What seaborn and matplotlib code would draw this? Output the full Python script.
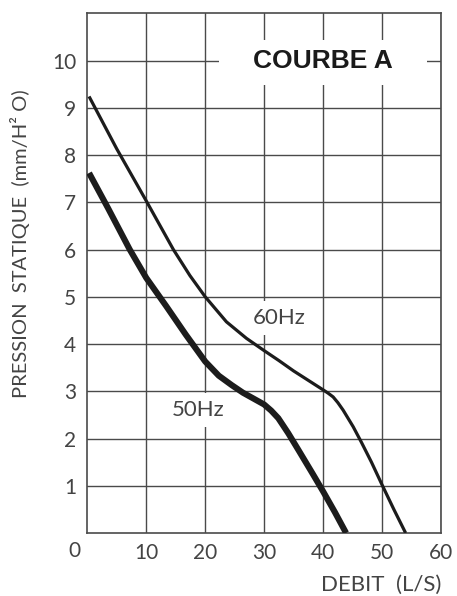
import matplotlib
matplotlib.use("Agg")
import matplotlib.pyplot as plt
import seaborn as sns
import pandas as pd
from matplotlib.patches import Rectangle

# ---- data ----
debit_60 = [0.3, 5, 10, 14.6, 17.4, 20, 23.6, 27, 30, 32.5, 35, 37.5, 40,
            40.85, 41.7, 42.5, 43.4, 45.1, 46.5, 48.2, 50, 52, 54]
pression_60 = [9.24, 8.13, 7.03, 6.0, 5.45, 5.0, 4.47, 4.12, 3.86, 3.65, 3.43, 3.23, 3.03,
               2.96, 2.88, 2.76, 2.60, 2.25, 1.92, 1.5, 1.02, 0.5, 0.0]

debit_50 = [0.3, 3.5, 7.2, 10, 13.4, 16.7, 20, 22.3, 24.5, 26.4, 30, 31.2, 32.4, 33.2,
            34.1, 35.8, 38.3, 40, 42, 43.9]
pression_50 = [7.62, 6.88, 6.0, 5.4, 4.8, 4.2, 3.63, 3.33, 3.13, 2.97, 2.72, 2.59, 2.43, 2.28,
               2.11, 1.76, 1.24, 0.88, 0.44, 0.0]

x_ticks = [10, 20, 30, 40, 50, 60]
y_ticks = [1, 2, 3, 4, 5, 6, 7, 8, 9, 10]

title_text = "COURBE A"
label_60 = "60Hz"
label_50 = "50Hz"
x_label = "DEBIT  (L/S)"
y_label = "PRESSION  STATIQUE  (mm/H² O)"

df60 = pd.DataFrame({"debit": debit_60, "pression": pression_60})
df50 = pd.DataFrame({"debit": debit_50, "pression": pression_50})

sns.set_style("white")
plt.rcParams["font.family"] = ["Lato", "DejaVu Sans"]

fig = plt.figure(figsize=(4.57, 5.96), dpi=100)
ax = fig.add_axes([0.191, 0.1057, 0.774, 0.872])

ink = "#1c1c1c"
gridc = "#4a4a4a"
txtc = "#444444"

sns.lineplot(data=df60, x="debit", y="pression", ax=ax, color=ink, linewidth=2.3,
             sort=False, estimator=None, zorder=5)
sns.lineplot(data=df50, x="debit", y="pression", ax=ax, color=ink, linewidth=4.4,
             sort=False, estimator=None, zorder=5)
for ln in ax.get_lines():
    ln.set_solid_capstyle("butt")
    ln.set_solid_joinstyle("round")

ax.set_xlim(0, 60)
ax.set_ylim(0, 11)
ax.set_xticks(x_ticks)
ax.set_yticks(y_ticks)
ax.set_xticklabels([str(v) for v in x_ticks], fontsize=15, color=txtc)
ax.set_yticklabels([str(v) for v in y_ticks], fontsize=15, color=txtc)
ax.tick_params(axis="x", length=0, pad=7)
ax.tick_params(axis="y", length=0, pad=8)

ax.grid(True, color=gridc, linewidth=1.0, zorder=1)
ax.set_axisbelow(True)
for s in ax.spines.values():
    s.set_color(gridc)
    s.set_linewidth(1.2)

# origin label
ax.text(-2.1, -0.38, "0", ha="center", va="center", fontsize=15,
        color=txtc, clip_on=False)

# axis labels
ax.set_xlabel(x_label, fontsize=16, color=txtc)
ax.xaxis.set_label_coords(1.0, -0.1)
ax.xaxis.label.set_ha("right")
ax.xaxis.label.set_va("center")
ax.set_ylabel(y_label, fontsize=14.5, color=txtc)
ax.yaxis.set_label_coords(-0.19, 0.556)
ax.yaxis.label.set_va("center")

# title box
ax.add_patch(Rectangle((22.3, 9.49), 35.4, 0.95, facecolor="white", edgecolor="none", zorder=2))
ax.text(40, 10.0, title_text, ha="center", va="center", fontsize=19, fontweight="bold",
        family=["Liberation Sans", "DejaVu Sans"], color="#1a1a1a", zorder=6)

# curve labels with white boxes
ax.text(32.6, 4.55, label_60, ha="center", va="center", fontsize=16,
        color=txtc, zorder=4,
        bbox=dict(boxstyle="square,pad=0.3", facecolor="white", edgecolor="none"))
ax.text(18.8, 2.6, label_50, ha="center", va="center", fontsize=16,
        color=txtc, zorder=4,
        bbox=dict(boxstyle="square,pad=0.3", facecolor="white", edgecolor="none"))

fig.savefig("out.png", dpi=100)
